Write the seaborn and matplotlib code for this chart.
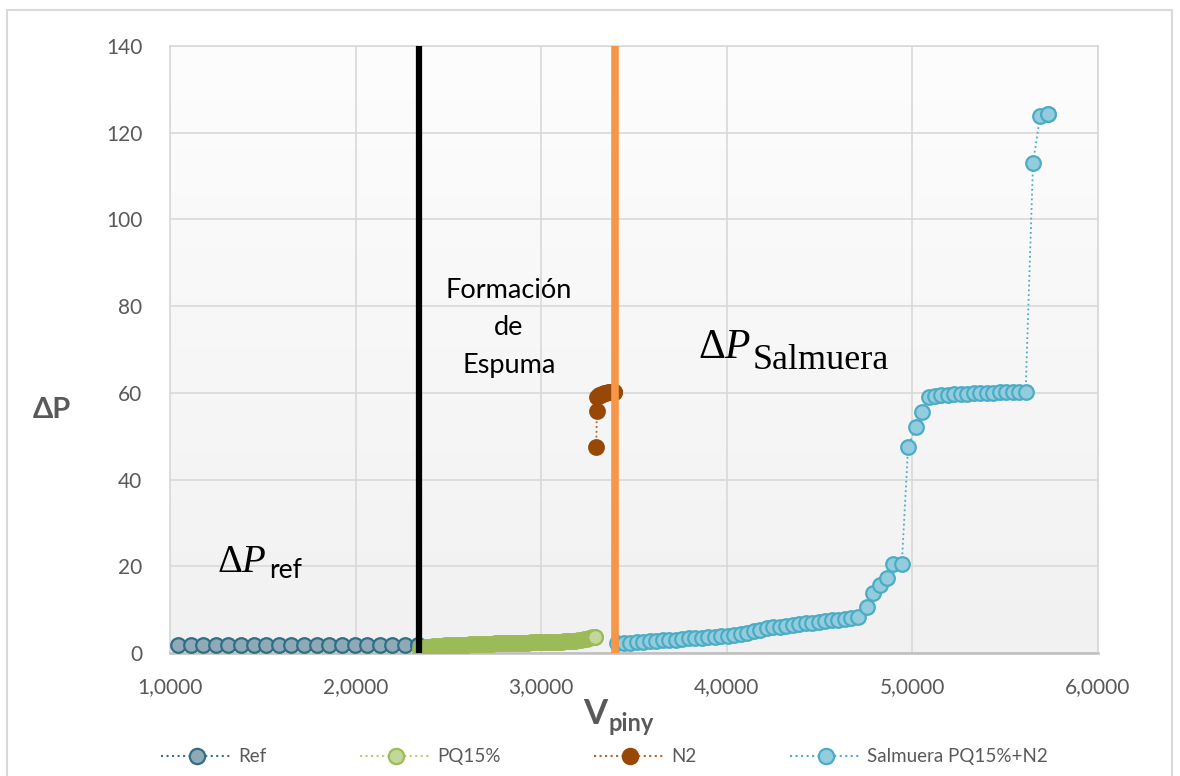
import numpy as np
import matplotlib
matplotlib.use("Agg")
import matplotlib.pyplot as plt
import seaborn as sns
from matplotlib.colors import LinearSegmentedColormap
from matplotlib.ticker import FuncFormatter, MultipleLocator
from matplotlib.patches import Rectangle
from matplotlib.lines import Line2D

# Data (x in the chart's own units, labelled 1,0000 ... 6,0000)
ref_x = [1.043, 1.111, 1.179, 1.247, 1.315, 1.383, 1.451, 1.519, 1.587, 1.655,
         1.723, 1.791, 1.859, 1.927, 1.995, 2.063, 2.131, 2.199, 2.267, 2.335]
ref_y = [1.8, 1.8, 1.8, 1.8, 1.8, 1.8, 1.8, 1.8, 1.8, 1.8,
         1.8, 1.8, 1.8, 1.8, 1.8, 1.8, 1.8, 1.8, 1.8, 1.8]

pq_x = [2.345, 2.360, 2.375, 2.390, 2.405, 2.420, 2.435, 2.450, 2.465, 2.480,
        2.495, 2.510, 2.525, 2.540, 2.555, 2.570, 2.585, 2.600, 2.615, 2.630,
        2.645, 2.660, 2.675, 2.690, 2.705, 2.720, 2.735, 2.750, 2.765, 2.780,
        2.795, 2.810, 2.825, 2.840, 2.855, 2.870, 2.885, 2.900, 2.915, 2.930,
        2.945, 2.960, 2.975, 2.990, 3.005, 3.020, 3.035, 3.050, 3.065, 3.080,
        3.095, 3.110, 3.125, 3.140, 3.155, 3.170, 3.185, 3.200, 3.215, 3.230,
        3.245, 3.260, 3.275, 3.290]
pq_y = [0.9, 1.1, 1.3, 1.4, 1.5, 1.55, 1.6, 1.65, 1.7, 1.75,
        1.8, 1.8, 1.85, 1.85, 1.9, 1.9, 1.95, 1.95, 2.0, 2.0,
        2.05, 2.05, 2.1, 2.1, 2.1, 2.15, 2.15, 2.2, 2.2, 2.2,
        2.25, 2.25, 2.3, 2.3, 2.3, 2.35, 2.35, 2.4, 2.4, 2.4,
        2.45, 2.45, 2.5, 2.5, 2.5, 2.55, 2.55, 2.6, 2.6, 2.6,
        2.65, 2.65, 2.7, 2.7, 2.75, 2.8, 2.85, 2.95, 3.05, 3.15,
        3.3, 3.45, 3.6, 3.7]

n2_x = [3.297, 3.300, 3.303, 3.310, 3.320, 3.330, 3.340, 3.350, 3.360, 3.370,
        3.380, 3.390, 3.395]
n2_y = [47.5, 55.8, 59.0, 59.4, 59.6, 59.8, 59.9, 60.0, 60.1, 60.1,
        60.2, 60.2, 60.2]

sal_x = [3.410, 3.445, 3.480, 3.515, 3.550, 3.585, 3.620, 3.655, 3.690, 3.725,
         3.760, 3.795, 3.830, 3.865, 3.900, 3.935, 3.970, 4.005, 4.040, 4.075,
         4.110, 4.145, 4.180, 4.215, 4.250, 4.285, 4.320, 4.355, 4.390, 4.425,
         4.460, 4.495, 4.530, 4.565, 4.600, 4.635, 4.670, 4.705, 4.755, 4.788,
         4.825, 4.862, 4.897, 4.943, 4.977, 5.018, 5.052, 5.088, 5.120, 5.155,
         5.190, 5.225, 5.260, 5.295, 5.330, 5.365, 5.400, 5.435, 5.470, 5.505,
         5.540, 5.575, 5.610, 5.650, 5.688, 5.730]
sal_y = [2.2, 2.3, 2.4, 2.5, 2.6, 2.7, 2.8, 2.9, 3.0, 3.1,
         3.2, 3.35, 3.45, 3.55, 3.65, 3.75, 3.85, 3.95, 4.1, 4.3,
         4.6, 5.0, 5.4, 5.7, 5.9, 6.1, 6.3, 6.5, 6.7, 6.85,
         7.0, 7.2, 7.35, 7.5, 7.7, 7.85, 8.0, 8.2, 10.6, 13.8,
         15.6, 17.4, 20.6, 20.6, 47.5, 52.1, 55.6, 59.0, 59.3, 59.5,
         59.6, 59.7, 59.8, 59.85, 59.9, 59.95, 60.0, 60.05, 60.1, 60.15,
         60.2, 60.25, 60.3, 113.0, 123.8, 124.3]

line_black = 2.342
line_orange = 3.398

sns.set_theme(style="white")
plt.rcParams["font.family"] = ["Lato", "DejaVu Sans"]
plt.rcParams["mathtext.fontset"] = "custom"
plt.rcParams["mathtext.rm"] = "Liberation Serif"
plt.rcParams["mathtext.it"] = "Liberation Serif:italic"
plt.rcParams["mathtext.bf"] = "Lato:bold"
plt.rcParams["mathtext.sf"] = "Lato"

fig = plt.figure(figsize=(11.8, 7.76), dpi=100)
ax = fig.add_axes([0.144, 0.1585, 0.7865, 0.7822])

# gradient plot background
cmap_bg = LinearSegmentedColormap.from_list("bg", ["#FDFDFD", "#F1F1F1"])
ax.imshow(np.linspace(0, 1, 256)[:, None], extent=[0, 1, 0, 1], transform=ax.transAxes,
          cmap=cmap_bg, aspect="auto", zorder=-2)

# name, x, y, marker face, marker edge, line colour, face of dense run
series = [
    ("Ref", ref_x, ref_y, "#8FAAB6", "#2E6F86", "#3E6E8A", "#8FAAB6"),
    ("PQ15%", pq_x, pq_y, "#C4D79B", "#9BBB59", "#B5CF7C", "#9BBB59"),
    ("N2", n2_x, n2_y, "#974806", "#974806", "#B4652A", "#974806"),
    ("Salmuera PQ15%+N2", sal_x, sal_y, "#93CDDD", "#4BACC6", "#4BACC6", "#93CDDD"),
]
handles = []
for lab, xs, ys, fc, ec, lc, run_fc in series:
    sns.lineplot(x=xs, y=ys, ax=ax, estimator=None, sort=False,
                 color=lc, linestyle=":", linewidth=1.3, marker="o", markersize=10.5,
                 markerfacecolor=run_fc, markeredgecolor=ec, markeredgewidth=1.6, zorder=3)
    # last point drawn on top with its own face
    ax.plot(xs[-1:], ys[-1:], "o", ms=10.5, mfc=fc, mec=ec, mew=1.6, zorder=3)
    handles.append(Line2D([], [], color=lc, linestyle=":", linewidth=1.5, marker="o",
                          markersize=11, markerfacecolor=fc, markeredgecolor=ec,
                          markeredgewidth=1.6, label=lab))

ax.plot([line_black, line_black], [0, 140], color="black", lw=4.5, zorder=4)
ax.plot([line_orange, line_orange], [0, 140], color="#F79646", lw=5.5, zorder=4)

ax.set_xlim(1, 6)
ax.set_ylim(0, 140)
ax.xaxis.set_major_locator(MultipleLocator(1))
ax.yaxis.set_major_locator(MultipleLocator(20))
ax.xaxis.set_major_formatter(FuncFormatter(lambda v, p: f"{v:.4f}".replace(".", ",")))
ax.grid(True, color="#D9D9D9", lw=1.2)
ax.set_axisbelow(True)
ax.tick_params(length=0, labelsize=15, colors="#595959")
ax.tick_params(axis="y", pad=20)
ax.tick_params(axis="x", pad=17)
for s in ax.spines.values():
    s.set_color("#D9D9D9")
    s.set_linewidth(1.2)
ax.spines["bottom"].set_color("#BFBFBF")
ax.spines["bottom"].set_linewidth(1.8)

# axis titles
fig.text(583 / 1180, (776 - 724) / 776, "V", fontsize=25, fontweight="bold",
         color="#595959", ha="left", va="baseline")
fig.text(609 / 1180, (776 - 731) / 776, "piny", fontsize=17, fontweight="bold",
         color="#595959", ha="left", va="baseline")
ax.set_ylabel("ΔP", fontsize=21, fontweight="bold", color="#595959",
              rotation=0, ha="center", va="center")
ax.yaxis.set_label_coords(-0.127, 0.40)

# annotations
ax.text(2.826, 75, "Formación\nde\nEspuma", fontsize=19.5, ha="center", va="center",
        linespacing=1.62, color="black")
ax.text(3.845, 68.0, r"$\Delta P$", fontsize=30, ha="left", va="baseline", color="black")
ax.text(4.138, 65.6, "Salmuera", fontsize=26, family="Liberation Serif", ha="left",
        va="baseline", color="black")
ax.text(1.253, 18.7, r"$\Delta P$", fontsize=28, ha="left", va="baseline", color="black")
ax.text(1.532, 17.3, "ref", fontsize=19, ha="left", va="baseline", color="black")

leg = ax.legend(handles=handles, loc="center", bbox_to_anchor=(0.468, -0.171), ncol=4,
                frameon=False, fontsize=13.5, handlelength=3.8, columnspacing=5.0,
                handletextpad=0.3)
for t in leg.get_texts():
    t.set_color("#595959")

fig.add_artist(Rectangle((7 / 1180, -0.01), 1165 / 1180, 0.997, transform=fig.transFigure,
                         fill=False, edgecolor="#D9D9D9", lw=1.5))

fig.savefig("out.png", dpi=100)
